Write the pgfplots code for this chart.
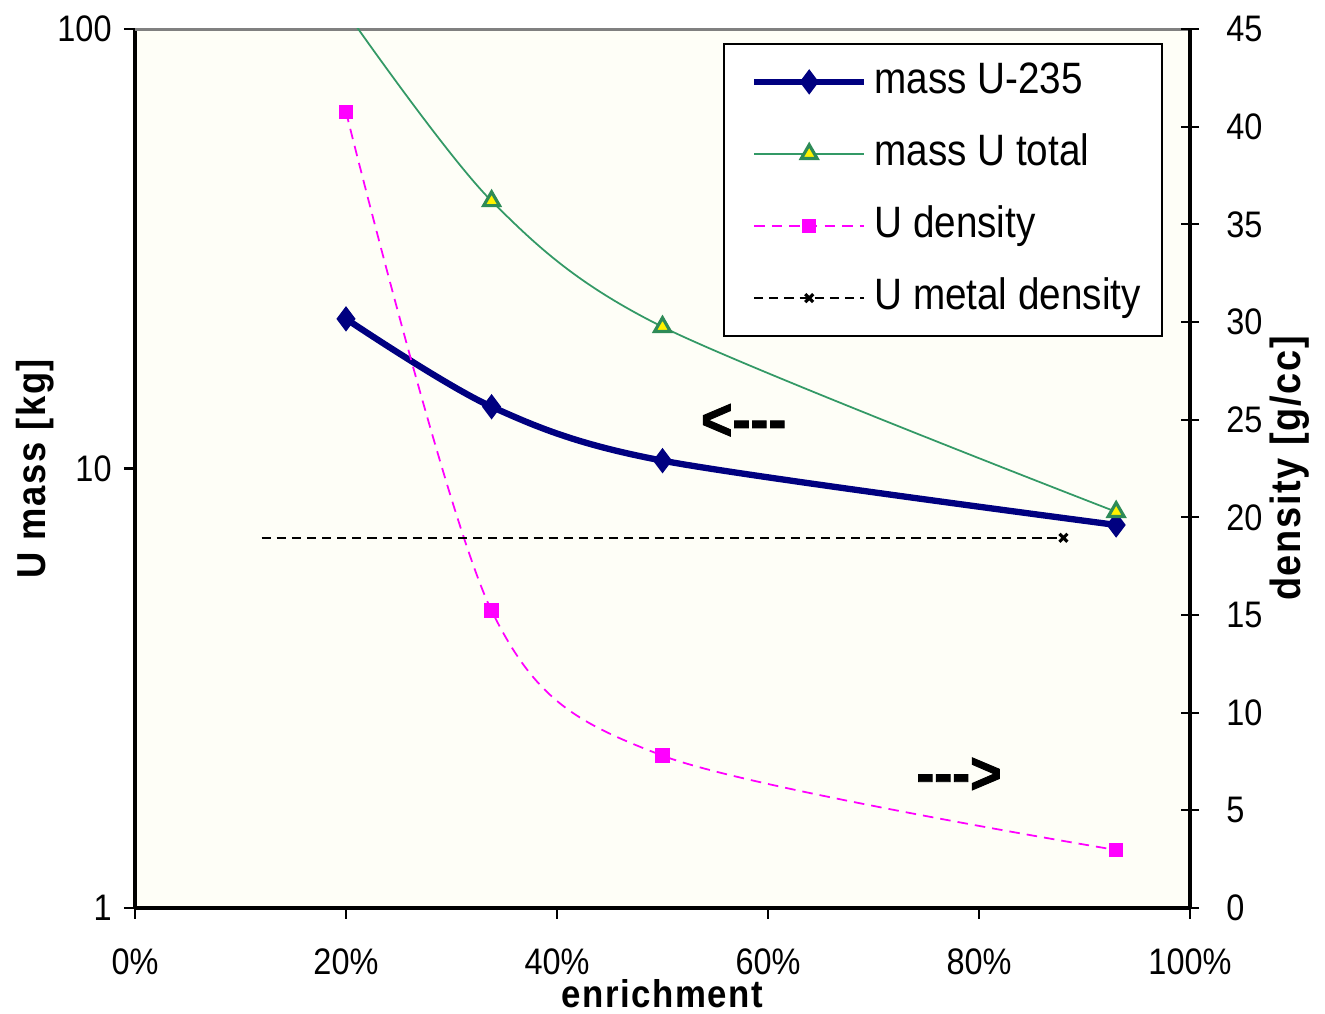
\documentclass[border=0pt]{standalone}
\usepackage{fontspec}
\setmainfont{Liberation Sans}[FakeStretch=0.88]
\newfontfamily\labelfont{Liberation Sans}[FakeStretch=0.9, LetterSpace=4]
\newfontfamily\arrowfont{Liberation Sans}[FakeStretch=0.9, FakeBold=1.5]
\usepackage{pgfplots}
\pgfplotsset{compat=1.18}

\definecolor{plotbg}{RGB}{254,254,247}
\definecolor{navyline}{RGB}{0,0,128}
\definecolor{seagreen}{RGB}{51,153,102}
\definecolor{trigreen}{RGB}{46,139,87}
\definecolor{pinkline}{RGB}{255,0,255}

\pgfplotsset{
  s235/.style={navyline, line width=1.8pt, smooth, mark=diamond*, mark size=3.3pt,
    mark options={solid, fill=navyline, draw=navyline, line width=0.4pt}},
  stot/.style={seagreen, line width=0.5pt, smooth, mark=triangle*, mark size=2.6pt,
    mark options={solid, fill=yellow, draw=trigreen, line width=0.9pt}},
  sdens/.style={pinkline, line width=0.5pt, dash pattern=on 3pt off 2pt, smooth,
    mark=square*, mark size=1.8pt, mark options={solid, fill=pinkline, draw=pinkline}},
  smetal/.style={black, line width=0.5pt, dash pattern=on 2.6pt off 1.7pt,
    mark=x, mark size=1.6pt, mark options={solid, line width=0.9pt}},
  base/.style={
    at={(0,0)}, anchor=south west,
    scale only axis, width=10.55cm, height=8.79cm,
    xmin=0, xmax=100,
    ticklabel style={font=\fontsize{10.5}{12}\selectfont},
    /pgf/number format/assume math mode=true,
    tick style={black, line width=0.6pt},
    axis line style={black, line width=0.9pt},
    label style={font=\labelfont\fontsize{11.5}{13}\selectfont\bfseries},
  },
}

\begin{document}
\begin{tikzpicture}
\useasboundingbox (-1.35cm,-1.05cm) rectangle (11.9cm,9.08cm);

% left axis: masses (log)
\begin{axis}[base,
  ymode=log, ymin=1, ymax=100,
  axis x line*=bottom, axis y line*=left,
  axis background/.style={fill=plotbg},
  xtick={0,20,40,60,80,100},
  xticklabels={0\%,20\%,40\%,60\%,80\%,100\%},
  ytick={1,10,100}, yticklabels={1,10,100},
  yminorticks=false,
  tick align=outside, major tick length=0.11cm,
  xticklabel style={yshift=-0.17cm},
  xlabel={enrichment}, ylabel={U mass [kg]},
  xlabel style={at={(axis description cs:0.5,-0.097)}, anchor=center,
    font=\labelfont\fontsize{11}{13}\selectfont\bfseries},
  ylabel style={at={(axis description cs:-0.0948,0.5)}, anchor=center},
]
\draw[gray, line width=1.4pt] (rel axis cs:0,1) -- (rel axis cs:1,1);
\addplot[s235] coordinates {
  (20,21.9) (33.8,13.82) (50,10.42) (93,7.44)
};
\addplot[stot] coordinates {
  (20,109.5) (33.8,40.6) (50,21.0) (93,7.97)
};
\node[font=\arrowfont\fontsize{17}{17}\selectfont\bfseries] at (axis cs:57.7,12.76) {<-\kern0pt-\kern0pt-};
\node[font=\arrowfont\fontsize{17}{17}\selectfont\bfseries] at (axis cs:78.1,2.0) {-\kern0pt-\kern0pt->};
\end{axis}

% right axis: densities
\begin{axis}[base,
  ymin=0, ymax=45,
  axis x line=none, axis y line*=right,
  ytick={0,5,...,45},
  ytick align=center, major tick length=0.18cm,
  yticklabel style={xshift=0.15cm},
  ylabel={density [g/cc]},
  ylabel style={at={(axis description cs:1.0948,0.5)}, anchor=center,
    font=\labelfont\fontsize{12}{14}\selectfont\bfseries},
  legend cell align=left,
  legend style={at={(rel axis cs:0.9744,0.984)}, anchor=north east,
    draw=black, line width=0.6pt, fill=white,
    font=\fontsize{12.5}{14}\selectfont,
    row sep=5pt, inner xsep=4pt, inner ysep=3pt,
    nodes={text height=9pt, text depth=2.5pt, inner sep=2pt}},
  legend image code/.code={
    \path (0cm,0cm) (1.23cm,0cm);
    \draw[mark repeat=2, mark phase=2, #1] plot coordinates {(0.13cm,0cm) (0.68cm,0cm) (1.23cm,0cm)};
  },
]
\addlegendimage{s235}
\addlegendentry{mass U-235}
\addlegendimage{stot}
\addlegendentry{mass U total}
\addplot[sdens] coordinates {
  (20,40.76) (33.8,15.22) (50,7.80) (93,2.97)
};
\addlegendentry{U density}
\addplot[smetal, mark indices={2}] coordinates {
  (12,18.95) (88,18.95)
};
\addlegendentry{U metal density}
\end{axis}
\end{tikzpicture}
\end{document}
